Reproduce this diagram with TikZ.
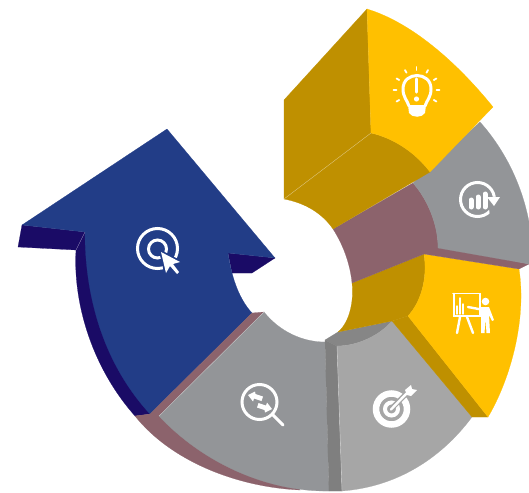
\documentclass[tikz,border=0pt]{standalone}
\definecolor{sunface}{HTML}{FFC000}
\definecolor{sunside}{HTML}{BF9000}
\definecolor{ashface}{HTML}{939598}
\definecolor{paleface}{HTML}{A6A6A6}
\definecolor{paleside}{HTML}{7F7F7F}
\definecolor{paletop}{HTML}{868686}
\definecolor{mauveside}{HTML}{8C636C}
\definecolor{navyface}{HTML}{223D87}
\definecolor{navyside}{HTML}{1A0B66}
\begin{document}
\begin{tikzpicture}
[
x=1pt,y=-1pt,
face/.style={fill=#1,draw=#1,line width=0.2pt},
seam/.style={draw=white,opacity=0.45,line width=0.4pt},
icon/.style={draw=white,line width=#1,line cap=round},
blob/.style={fill=white,draw=none},
]
\useasboundingbox (0,0) rectangle (529,492);

%Draw the blue arrow
\path[face=navyside] (22,225) -- (85,232) -- (76,250) -- (18,247) -- cycle;
\path[face=navyside] (85,232) -- (76,250) .. controls (73,300) and (90,365) .. (135,416) -- (150,414) -- cycle;
\path[face=navyside] (228,253) -- (275,258) -- (252,273) -- (232,273) -- cycle;
\path[face=navyface] (167,129) -- (275,258) -- (228,253) .. controls (232,280) and (240,300) .. (252,313) -- (150,414) .. controls (105,365) and (85,300) .. (85,232) -- (22,225) -- cycle;

%Draw the left gray segment
\path[face=mauveside] (135,416) -- (159,416) -- (240,440) -- (300,490) .. controls (235,487) and (170,460) .. (135,416) -- cycle;
\path[face=mauveside] (252,313) -- (264,312) -- (159,416) -- (135,416) -- (150,414) -- cycle;
\path[face=ashface] (264,312) .. controls (280,332) and (303,342) .. (325,342) -- (329,491) .. controls (270,492) and (205,465) .. (159,416) -- cycle;

%Draw the pale segment
\path[face=paletop] (325,340) -- (338,332) -- (392,321) .. controls (380,335) and (358,346) .. (337,346) -- cycle;
\path[face=paleside] (325,340) -- (337,346) -- (342,491) -- (329,491) -- cycle;
\path[face=paleface] (337,346) .. controls (358,346) and (380,335) .. (392,321) -- (472,417) .. controls (440,460) and (395,487) .. (342,491) -- cycle;

%Draw the right yellow segment
\path[face=sunside] (352,283) -- (424,254) .. controls (428,280) and (420,303) .. (408,316) -- (392,321) -- (338,332) .. controls (350,322) and (354,300) .. (352,283) -- cycle;
\path[face=sunside] (408,316) -- (488,417) -- (472,417) -- (392,321) -- cycle;
\path[face=sunface] (424,254) -- (519,269) .. controls (527,320) and (510,380) .. (488,417) -- (408,316) .. controls (420,303) and (428,280) .. (424,254) -- cycle;

%Draw the upper gray segment
\path[face=mauveside] (333,229) -- (413,183) .. controls (428,200) and (438,225) .. (438,246) -- (529,264) -- (519,269) -- (424,254) -- (352,283) .. controls (350,262) and (342,243) .. (333,229) -- cycle;
\path[face=ashface] (413,183) -- (480,122) .. controls (505,150) and (522,185) .. (529,222) -- (529,264) -- (438,248) .. controls (438,225) and (428,200) .. (413,183) -- cycle;

%Draw the top yellow segment
\path[face=sunside] (367,9) -- (371,133) -- (284,199) -- (284,100) -- cycle;
\path[face=sunside] (371,133) .. controls (393,138) and (415,152) .. (430,172) -- (333,229) .. controls (322,213) and (305,203) .. (284,199) -- cycle;
\path[face=sunface] (367,9) .. controls (410,22) and (455,60) .. (493,107) -- (430,172) .. controls (415,152) and (393,138) .. (371,133) -- cycle;

%Faint seams
\path[seam] (284,199) -- (371,133);
\path[seam] (337,346) -- (342,491);
\path[seam] (85,232) -- (76,250);
\path[seam] (159,416) -- (264,312);

%Bulb
\draw[icon=3pt] (409,106) .. controls (407,100) and (403,97) .. (403,89) .. controls (403,71) and (431,71) .. (431,89) .. controls (431,97) and (427,100) .. (425,106);
\path[blob] (408,105) -- (426,105) -- (425,113) .. controls (422,118) and (412,118) .. (409,113) -- cycle;
\draw[icon=3.2pt] (416.5,79) -- (416.5,92);
\path[blob] (416.5,99) circle (2.6pt);
\foreach \ang in {180,210,240,270,300,330,360,390,150}
  \draw[icon=1.8pt] (416.5,90) ++(\ang:20) -- ++(\ang:3);

%Loop with bars
\draw[icon=3pt] (477.5,199.5) circle (17);
\path[face=ashface] (487,197) -- (502,197) -- (502,210) -- (490,214) -- cycle;
\path[blob] (487,197) -- (500,197) -- (494,206) -- cycle;
\foreach \xpos/\ytop in {471/200,478/197,485/194}
  \draw[icon=5pt] (\xpos,\ytop) -- (\xpos,207);

%Presenter
\draw[icon=1.6pt] (453,293.5) -- (480,293.5) -- (480,316) -- (454,316) -- (454,293.5);
\draw[icon=1.4pt] (457,314) -- (457,306) (460,314) -- (460,298) (463,314) -- (463,304);
\draw[icon=2.4pt] (460,317) -- (457,333) (467,317) -- (473,333);
\draw[icon=2.4pt] (468,307) -- (484,310);
\path[blob] (485.5,301.5) circle (3.8pt);
\path[blob] (481,307) -- (489,307) -- (494,320) -- (492,321) -- (489,315) -- (490,333) -- (486.5,333) -- (485.5,319) -- (484.5,333) -- (481,333) -- cycle;

%Target
\draw[icon=6.5pt] (391.5,409) circle (15.5);
\draw[icon=4pt] (391.5,409) circle (6.5);
\draw[paleface,line width=5pt] (393,407) -- (408,392);
\draw[icon=2.4pt] (391,409.5) -- (407,393);
\path[blob] (405,390) -- (411,385) -- (412,389) -- (417,390) -- (411,396) -- (407,395) -- cycle;

%Magnifier
\draw[icon=3pt] (259.5,402) circle (17.5);
\draw[icon=3pt] (273,415) -- (283,425);
\path[blob] (248,395) -- (255,391.5) -- (255.5,394) -- (263,396.5) -- (261.5,401) -- (254,398.5) -- (253,401.5) -- cycle;
\path[blob] (272,409) -- (265,412.5) -- (264.5,410) -- (257,407.5) -- (258.5,403) -- (266,405.5) -- (267,402.5) -- cycle;

%Cursor rings
\draw[icon=3pt] (157.5,248.5) circle (20);
\draw[icon=3pt] (157.5,249) circle (9);
\path[fill=navyface,draw=navyface,line width=3.5pt,line join=round] (161,252) -- (180,262) -- (173,264) -- (179,272) -- (177,274) -- (170,266) -- (166,273) -- cycle;
\path[blob] (161,252) -- (180,262) -- (173,264) -- (179,272) -- (177,274) -- (170,266) -- (166,273) -- cycle;
\end{tikzpicture}
\end{document}
